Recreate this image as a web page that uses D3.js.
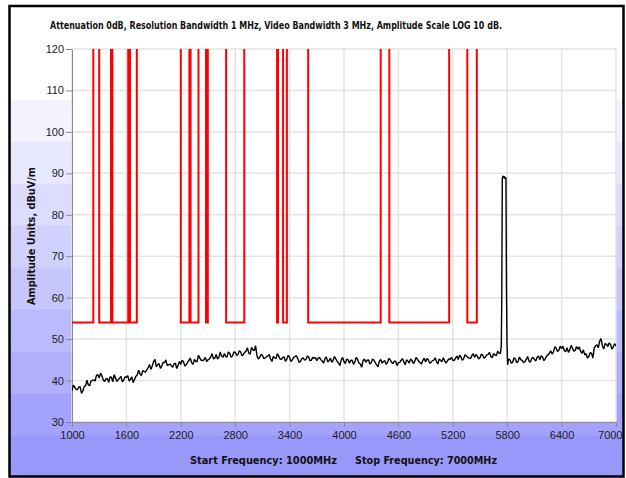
<!DOCTYPE html>
<html><head><meta charset="utf-8">
<script src="https://cdn.jsdelivr.net/npm/d3@7"></script>
<style>body{margin:0;background:#fff}svg{display:block}</style>
</head><body><svg id="c" width="626" height="478"></svg>
<script>
const titleText = "Attenuation 0dB, Resolution Bandwidth 1 MHz, Video Bandwidth 3 MHz, Amplitude Scale LOG 10 dB.";
const yLabel = "Amplitude Units, dBuV/m";
const startLabel = "Start Frequency: 1000MHz";
const stopLabel = "Stop Frequency: 7000MHz";
const xTicks = [1000,1600,2200,2800,3400,4000,4600,5200,5800,6400,7000];
const yTicks = [30,40,50,60,70,80,90,100,110,120];

// limit mask (step): level holds from each breakpoint to the next
const maskFreq  = [1000,1235,1300,1430,1445,1620,1640,1715,2200,2295,2308,2395,2478,2498,2700,2900,3262,3272,3328,3370,3605,4405,4500,5160,5360,5465,7000];
const maskLevel = [54,130,54,130,54,130,54,130,54,130,54,130,54,130,54,130,54,130,54,130,54,130,54,130,54,130,130];

// measured trace, sweep A: 30 MHz steps from 1000 MHz
const traceAStart = 1000, traceStep = 30;
const traceA = [
37.6,38.4,37.8,38.5,37.5,38.7,38.9,39.9,40.2,41.3,
40.6,41.1,39.8,40.5,40.9,39.7,40.6,40.2,41.0,40.1,
40.8,39.9,40.9,40.3,41.4,41.6,42.4,42.0,43.1,42.7,
44.6,43.3,44.1,43.5,44.3,43.6,44.0,43.2,44.2,43.7,
43.9,44.5,43.8,44.9,44.3,45.1,44.6,45.4,44.8,45.6,
45.0,45.7,45.2,46.3,45.6,45.9,46.5,45.7,46.6,45.9,
46.8,46.2,46.9,46.3,47.1,46.6,48.0,47.2,46.0,45.6,
46.1,45.4,45.9,45.2,45.8,45.3,45.9,45.1,45.7,45.2,
45.6,45.0,45.8,45.3,44.6,45.5,45.1,45.7,44.9,45.4,
44.8,45.6,44.7,45.3,44.5,45.4,44.9,45.2,44.3,45.0,
44.6,45.2,44.2,44.9,44.5,45.1,44.0,44.8,44.4,45.0,
44.3,44.9,43.8,44.7,44.2,44.8,44.4,45.0,44.1,44.7,
44.3,44.9,44.5,45.0,44.2,44.8,44.6,45.1,44.3,44.9,
44.5,45.0,44.4,44.9,44.6,45.2,44.5,44.8,44.7,45.1,
44.9,45.4,45.1,45.7,45.3,45.9,45.4,46.0,45.6,45.9,
45.5,46.1,45.7,46.3,45.8,46.5,46.0,46.6,47.0,47.0,
44.0,45.0,44.4,45.2,44.6,45.0,44.3,45.1,44.7,45.3,
45.1,45.6,45.0,45.7,45.3,46.2,47.2,46.9,47.8,47.3,
47.7,47.2,47.9,47.4,47.8,47.3,47.6,47.0,47.4,46.5,
45.8,46.6,47.9,48.6,49.5,48.4,48.9,48.2,48.7,48.1,48.4];
// sweep B: interleaved samples, 30 MHz steps from 1015 MHz
const traceBStart = 1015;
const traceB = [
38.9,37.8,38.4,36.9,38.6,40.1,38.8,40.0,39.9,41.4,
41.8,40.1,40.4,39.6,40.8,41.4,39.8,40.6,39.7,40.9,
41.2,40.3,39.5,41.0,42.5,41.2,42.2,42.6,43.9,43.5,
45.1,43.8,42.9,44.4,45.0,43.8,43.6,44.0,42.9,44.6,
44.9,43.5,44.4,45.4,43.9,44.6,46.1,44.9,45.0,44.6,
45.2,46.5,45.4,45.2,46.9,45.6,45.8,46.9,45.6,46.9,
46.1,47.2,46.0,46.8,47.9,46.4,47.4,48.4,45.2,46.3,
45.3,45.8,46.3,44.6,45.5,46.5,45.2,45.6,44.6,46.1,
44.6,45.6,46.0,44.4,45.3,44.9,45.9,44.8,45.6,45.5,
45.4,45.0,44.2,45.7,44.8,44.4,45.8,44.6,43.6,45.6,
44.1,45.0,44.9,43.9,45.6,44.2,43.2,45.2,44.9,44.0,
45.2,44.3,43.3,45.1,44.6,43.9,45.3,44.4,44.7,43.6,
44.4,45.3,43.8,44.7,45.2,44.1,45.6,44.6,44.0,45.4,
45.3,44.2,44.8,45.5,44.0,44.9,45.5,44.2,45.2,45.6,
44.8,45.9,46.1,44.9,46.2,45.6,45.3,46.5,46.3,45.2,
46.4,45.4,46.2,46.8,45.5,46.2,47.1,46.1,47.0,47.0,
45.2,44.2,45.5,44.3,45.7,44.9,44.6,45.8,44.4,45.6,
44.7,45.9,46.0,44.8,45.9,46.6,46.4,48.2,47.0,48.3,
48.3,47.0,46.8,48.5,47.1,48.2,48.1,46.6,46.2,45.4,
46.7,45.4,48.4,47.9,50.1,47.6,48.8,49.1,47.6,48.9];
// carrier spike
const spikeFreq  = [5725,5735,5740,5746,5752,5760,5768,5776,5786,5792,5798,5805];
const spikeLevel = [46.5,48.5,60.0,88.6,89.4,88.9,89.3,88.7,89.0,62.0,48.5,43.8];

const svg = d3.select("#c");
const m = {l:72, r:616, t:49, b:422};
const x = d3.scaleLinear().domain([1000,7000]).range([m.l,m.r]);
const y = d3.scaleLinear().domain([30,120]).range([m.b,m.t]);

// panel background with banded gradient
const bands = 9;
const col = d3.interpolateRgb("#f3f3ff","#9898fa");
svg.append("rect").attr("x",9).attr("y",6).attr("width",615).attr("height",471).attr("fill","#fff");
for (let i=0;i<bands;i++){
  const y0 = 100 + i*(477-100)/bands;
  svg.append("rect").attr("x",9).attr("y",y0).attr("width",615).attr("height",(477-100)/bands+0.5)
    .attr("fill",col(i/(bands-1)));
}
svg.append("rect").attr("x",m.l).attr("y",m.t).attr("width",m.r-m.l).attr("height",m.b-m.t).attr("fill","#fff");

// grid
svg.append("g").selectAll("line").data(yTicks).join("line")
  .attr("x1",m.l).attr("x2",m.r).attr("y1",d=>y(d)).attr("y2",d=>y(d))
  .attr("stroke","#e3e3e3").attr("stroke-width",1.5);
svg.append("g").selectAll("line").data(xTicks).join("line")
  .attr("y1",m.t).attr("y2",m.b).attr("x1",d=>x(d)).attr("x2",d=>x(d))
  .attr("stroke","#e3e3e3").attr("stroke-width",1.5);

// axes
const fontTick = "Liberation Sans, Arial, sans-serif";
const ya = svg.append("g").attr("transform",`translate(${m.l},0)`)
  .call(d3.axisLeft(y).tickValues(yTicks).tickSize(6).tickPadding(2).tickSizeOuter(0));
const xa = svg.append("g").attr("transform",`translate(0,${m.b})`)
  .call(d3.axisBottom(x).tickValues(xTicks).tickFormat(d3.format("d")).tickSize(5).tickPadding(4).tickSizeOuter(0));
[ya,xa].forEach(a=>{
  a.select(".domain").attr("stroke","#8a8a8a");
  a.selectAll(".tick line").attr("stroke","#8a8a8a");
  a.selectAll("text").attr("font-family",fontTick).attr("font-size",11).attr("fill","#222");
});
xa.selectAll(".tick text").filter(d=>d===7000).attr("text-anchor","end").attr("dx",6);

// clip
svg.append("clipPath").attr("id","pc").append("rect")
  .attr("x",m.l).attr("y",m.t).attr("width",m.r-m.l).attr("height",m.b-m.t);

// mask line
const maskData = maskFreq.map((f,i)=>[f,maskLevel[i]]);
svg.append("path").datum(maskData).attr("clip-path","url(#pc)")
  .attr("fill","none").attr("stroke","#ff0000").attr("stroke-width",2)
  .attr("d",d3.line().x(d=>x(d[0])).y(d=>y(d[1])).curve(d3.curveStepAfter));

// trace: merge both sweeps and spike
let trace = traceA.map((v,i)=>[traceAStart+i*traceStep,v])
  .concat(traceB.map((v,i)=>[traceBStart+i*traceStep,v]))
  .filter(d=>d[0]<5720||d[0]>5810);
trace = trace.concat(spikeFreq.map((f,i)=>[f,spikeLevel[i]])).sort((a,b)=>a[0]-b[0]);
svg.append("path").datum(trace).attr("clip-path","url(#pc)")
  .attr("fill","none").attr("stroke","#000").attr("stroke-width",1.4)
  .attr("stroke-linejoin","bevel")
  .attr("d",d3.line().x(d=>x(d[0])).y(d=>y(d[1])));

// texts
const fontBold = "DejaVu Sans, Verdana, sans-serif";
function boldText(t, xx, yy, len, size){
  return svg.append("text").attr("x",xx).attr("y",yy)
    .attr("font-family",fontBold).attr("font-weight","bold").attr("font-size",size)
    .attr("textLength",len).attr("lengthAdjust","spacingAndGlyphs").attr("fill","#111").text(t);
}
boldText(titleText, 50, 29, 452, 10);
boldText(startLabel, 190, 464, 147, 10.5);
boldText(stopLabel, 355, 464, 142, 10.5);
svg.append("text").attr("transform","translate(35,305) rotate(-90)")
  .attr("font-family",fontBold).attr("font-weight","bold").attr("font-size",10.5)
  .attr("textLength",138).attr("lengthAdjust","spacingAndGlyphs").attr("fill","#111").text(yLabel);

// frame
svg.append("rect").attr("x",9.5).attr("y",6).attr("width",614).attr("height",470.5)
  .attr("fill","none").attr("stroke","#000").attr("stroke-width",2.5);
</script></body></html>
